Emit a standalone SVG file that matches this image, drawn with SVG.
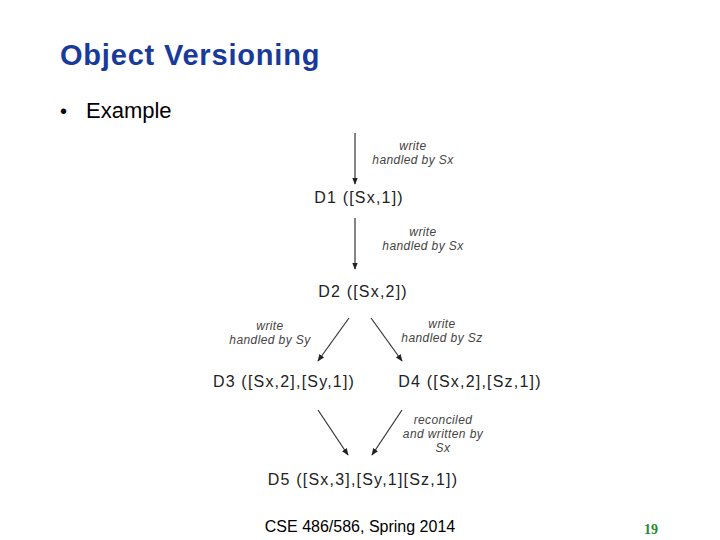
<svg xmlns="http://www.w3.org/2000/svg" width="720" height="540" viewBox="0 0 720 540">
<style>
.t{font-family:"Liberation Sans",Arial,sans-serif}
.n{font-family:"Liberation Sans",Arial,sans-serif;font-size:16px;letter-spacing:1.2px;fill:#222;text-anchor:middle}
.l{font-family:"Liberation Sans",Arial,sans-serif;font-size:12px;letter-spacing:0.4px;font-style:italic;fill:#444;text-anchor:middle}
.c{stroke:#333;stroke-width:1.2;fill:none;marker-end:url(#a)}
</style>
<defs><marker id="a" viewBox="0 0 10 10" refX="9" refY="5" markerWidth="6" markerHeight="6" orient="auto"><path d="M0,1L10,5L0,9z" fill="#222"/></marker></defs>
<rect width="720" height="540" fill="#fff"/>
<text x="60" y="65" class="t" font-size="29" letter-spacing="0.8" font-weight="bold" fill="#1a3a9a">Object Versioning</text>
<text x="60" y="118" class="t" font-size="20" fill="#000">•</text>
<text x="86" y="118" class="t" font-size="22" fill="#000">Example</text>
<g id="connectors">
<line class="c" x1="355" y1="133" x2="355" y2="184"/>
<line class="c" x1="355" y1="218" x2="355" y2="269"/>
<line class="c" x1="349" y1="318" x2="318" y2="361"/>
<line class="c" x1="371" y1="318" x2="402" y2="361"/>
<line class="c" x1="318" y1="410" x2="348" y2="455"/>
<line class="c" x1="402" y1="410" x2="372" y2="455"/>
<text class="l" x="413" y="150">write</text><text class="l" x="413" y="164">handled by Sx</text>
<text class="l" x="423" y="236">write</text><text class="l" x="423" y="250">handled by Sx</text>
<text class="l" x="270" y="330">write</text><text class="l" x="270" y="344">handled by Sy</text>
<text class="l" x="442" y="328">write</text><text class="l" x="442" y="342">handled by Sz</text>
<text class="l" x="443" y="424">reconciled</text><text class="l" x="443" y="438">and written by</text><text class="l" x="443" y="452">Sx</text>
</g>
<g id="D1"><text class="n" x="359" y="203">D1 ([Sx,1])</text></g>
<g id="D2"><text class="n" x="363" y="297">D2 ([Sx,2])</text></g>
<g id="D3"><text class="n" x="284" y="387">D3 ([Sx,2],[Sy,1])</text></g>
<g id="D4"><text class="n" x="470" y="387">D4 ([Sx,2],[Sz,1])</text></g>
<g id="D5"><text class="n" x="363" y="485">D5 ([Sx,3],[Sy,1][Sz,1])</text></g>
<text x="360" y="532" class="t" font-size="16" fill="#000" text-anchor="middle">CSE 486/586, Spring 2014</text>
<text x="651" y="534" font-family="Liberation Serif,serif" font-size="14" font-weight="bold" fill="#2a8a2a" text-anchor="middle">19</text>
</svg>
